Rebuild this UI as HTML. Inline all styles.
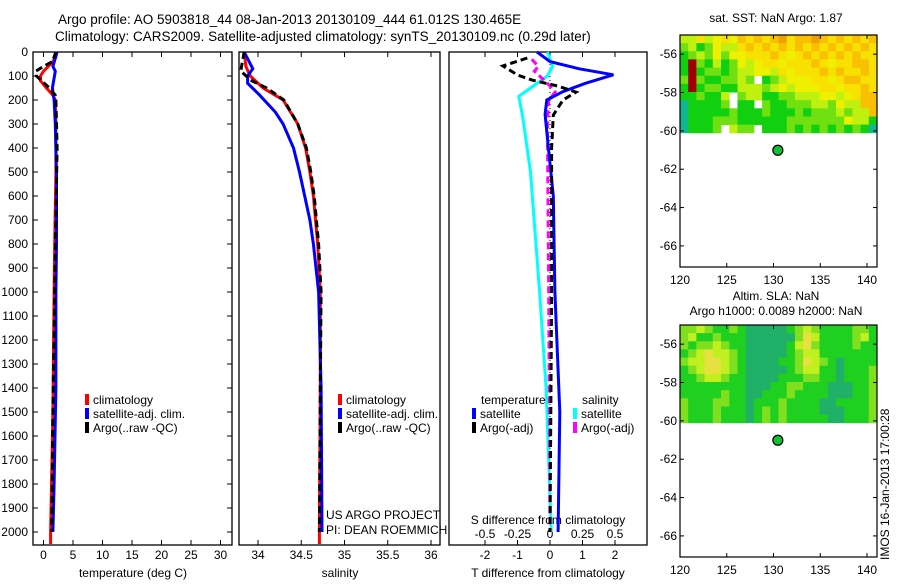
<!DOCTYPE html>
<html><head><meta charset="utf-8">
<style>
body{margin:0;background:#fff;width:900px;height:580px;overflow:hidden;font-family:"Liberation Sans",sans-serif;}
svg text{font-family:"Liberation Sans",sans-serif;font-size:12px;fill:#000;}
</style></head>
<body>
<svg id="chart" width="900" height="580" xmlns="http://www.w3.org/2000/svg">
<text x="58" y="24" style="font-size:13.5px">Argo profile: AO 5903818_44 08-Jan-2013 20130109_444 61.012S 130.465E</text>
<text x="55" y="41" style="font-size:13.5px">Climatology: CARS2009. Satellite-adjusted climatology: synTS_20130109.nc (0.29d later)</text>
<text x="776" y="22" text-anchor="middle">sat. SST: NaN Argo: 1.87</text>
<text x="776" y="300" text-anchor="middle">Altim. SLA: NaN</text>
<text x="776" y="315" text-anchor="middle">Argo h1000: 0.0089 h2000: NaN</text>
<text transform="translate(889,560) rotate(-90)">IMOS 16-Jan-2013 17:00:28</text>
<g id="g"></g>
</svg>
<script>
// ---- data ----
const depthTicks=[0,100,200,300,400,500,600,700,800,900,1000,1100,1200,1300,1400,1500,1600,1700,1800,1900,2000];
const tempTicks=[0,5,10,15,20,25,30];
const salTicks=[34,34.5,35,35.5,36];
const tdiffTicks=[-2,-1,0,1,2];
const sdiffTicks=[-0.5,-0.25,0,0.25,0.5];
const lonTicks=[120,125,130,135,140];
const latTicks=[-56,-58,-60,-62,-64,-66];

const tClimDepth=[0,20,40,60,80,100,120,150,180,200,300,500,800,1000,1500,2000,2050];
const tClimVal=[2.2,2.1,1.6,0.8,0.0,-0.5,-0.5,0.5,1.6,2.0,2.1,2.1,1.9,1.8,1.6,1.2,1.2];
const tSatDepth=[0,60,80,150,200,300,500,800,1000,1400,1800,2000];
const tSatVal=[2.3,1.6,2.0,1.5,1.8,2.0,2.2,2.2,2.1,2.1,1.8,1.6];
const tArgoDepth=[0,40,60,80,100,120,150,180,200,400,1000,1500,2000];
const tArgoVal=[2.1,1.5,0.0,-1.3,-1.2,-0.3,1.0,2.0,2.1,2.3,1.9,1.6,1.4];

const sClimDepth=[0,60,100,150,200,300,400,500,600,800,1000,1400,2000,2050];
const sClimVal=[33.84,33.86,33.91,34.06,34.29,34.46,34.55,34.6,34.64,34.69,34.72,34.72,34.71,34.71];
const sSatDepth=[0,70,100,130,180,250,300,400,500,600,700,800,900,1000,1400,2000];
const sSatVal=[33.84,33.94,33.88,33.88,34.02,34.2,34.29,34.41,34.48,34.54,34.6,34.64,34.67,34.7,34.73,34.74];
const sArgoDepth=[0,80,120,150,200,300,400,500,600,800,1000,1400,2000];
const sArgoVal=[33.84,33.8,33.93,34.1,34.3,34.46,34.56,34.61,34.65,34.7,34.73,34.72,34.71];

const dTSatDepth=[0,40,70,95,130,165,200,260,400,600,1000,1500,2000];
const dTSatVal=[-0.4,0,0.9,1.95,1.1,0.4,-0.1,-0.15,-0.05,0.1,0.15,0.3,0.25];
const dTArgoDepth=[25,58,96,117,142,167,200,263,400,1000,2000];
const dTArgoVal=[-0.7,-1.45,-1.0,-0.55,0.25,0.8,0.4,0.1,0.05,0.05,0.0];
const dSSatDepth=[0,60,100,150,185,270,500,1000,1400,2000];
const dSSatVal=[-0.02,0.02,-0.02,-0.15,-0.24,-0.21,-0.15,-0.08,-0.03,0.01];
const dSArgoDepth=[30,60,80,130,167,200,300,1000,2000];
const dSArgoVal=[-0.14,-0.09,-0.12,-0.02,0.04,-0.01,-0.02,-0.01,0.0];

const sstRows=["335345465656756676565656","231243356565656565656565","123242445556545656565655","182131243455455565455665","181221233443545556565565","282112232w12344455456655","181221133323434445545565","112113w23311223334434566","011112w11w21122233243366","011111211121112122232336","011122211111122222224331","01112w322w11121212121210"];
const slaRows=["223211210000012321111221","231121110000002431111231","212232110000013421111211","123433210000012331111111","233443210000112432101111","123443210000012331101112","112332110000111221101112","111111110001122111000112","111112110011121111000112","211122110111211110011112","211121110121211110001112","211121110121211111001112"];
const argoLon=130.465, argoLat=-61.012;

// ---- drawing ----
const NS="http://www.w3.org/2000/svg";
const G=document.getElementById('g');
function el(t,a,p){const e=document.createElementNS(NS,t);for(const k in a)e.setAttribute(k,a[k]);(p||G).appendChild(e);return e;}
const yD=d=>52+d*0.24;
const xT=v=>43.5+5.9*v;
const xS=v=>258+86.5*(v-34);
const xDT=v=>550+32.5*v;
const xDS=v=>550+130*v;
const TOP=52,BOT=545;
const panels=[[33,232,'temperature-panel'],[239,440,'salinity-panel'],[449,647,'difference-panel']];
panels.forEach(p=>{const r=el('rect',{x:p[0],y:TOP,width:p[1]-p[0],height:BOT-TOP,fill:'none',stroke:'#000','stroke-width':1.3});

});
depthTicks.forEach(d=>{const t=el('text',{x:28,y:yD(d)+4,'text-anchor':'end'});t.textContent=d;


el('line',{x1:33,x2:38,y1:yD(d),y2:yD(d),stroke:'#000'});el('line',{x1:227,x2:232,y1:yD(d),y2:yD(d),stroke:'#000'});});
function xticks(ticks,fx,y,labelY,name){ticks.forEach(v=>{const x=fx(v);el('line',{x1:x,x2:x,y1:TOP,y2:TOP+5,stroke:'#000'});el('line',{x1:x,x2:x,y1:BOT,y2:BOT-5,stroke:'#000'});
const t=el('text',{x:x,y:labelY,'text-anchor':'middle'});t.textContent=v;

});}
xticks(tempTicks,xT,0,559,'temperature-tick-label');
xticks(salTicks,xS,0,559,'salinity-tick-label');
xticks(tdiffTicks,xDT,0,559,'t-diff-tick-label');
sdiffTicks.forEach(v=>{const t=el('text',{x:xDS(v),y:538,'text-anchor':'middle'});t.textContent=v;

});
[['temperature (deg C)',133,577,'temperature-axis-title'],['salinity',340,577,'salinity-axis-title'],['T difference from climatology',548,577,'t-diff-axis-title'],['S difference from climatology',548,524,'s-diff-axis-title']].forEach(a=>{const t=el('text',{x:a[1],y:a[2],'text-anchor':'middle'});t.textContent=a[0];

});
el('line',{x1:550,x2:550,y1:TOP,y2:530,stroke:'#000','stroke-dasharray':'1,3'});
function line(ds,vs,fx,col,dash,name,w){const pts=ds.map((d,i)=>fx(vs[i]).toFixed(1)+','+yD(d).toFixed(1)).join(' ');
const a={points:pts,fill:'none',stroke:col,'stroke-width':w||3};if(dash)a['stroke-dasharray']=dash;const e=el('polyline',a);

}
line(tClimDepth,tClimVal,xT,'#f00',null,'temp-climatology-line');
line(tSatDepth,tSatVal,xT,'#00f',null,'temp-satellite-line');
line(tArgoDepth,tArgoVal,xT,'#000','7,4','temp-argo-line');
line(sClimDepth,sClimVal,xS,'#f00',null,'sal-climatology-line');
line(sSatDepth,sSatVal,xS,'#00f',null,'sal-satellite-line');
line(sArgoDepth,sArgoVal,xS,'#000','7,4','sal-argo-line');
line(dSSatDepth,dSSatVal,xDS,'#0ff',null,'s-diff-satellite-line');
line(dSArgoDepth,dSArgoVal,xDS,'#f0f','7,4','s-diff-argo-line');
line(dTSatDepth,dTSatVal,xDT,'#00f',null,'t-diff-satellite-line');
line(dTArgoDepth,dTArgoVal,xDT,'#000','7,4','t-diff-argo-line');
function leg(x,y,col,txt){el('rect',{x:x,y:y-10,width:4,height:11,fill:col});const t=el('text',{x:x+8,y:y});t.textContent=txt;

}
[[85,'temperature'],[338,'salinity']].forEach(p=>{leg(p[0],404,'#f00','climatology');leg(p[0],418,'#00f','satellite-adj. clim.');leg(p[0],432,'#000','Argo(..raw -QC)');});
let t=el('text',{x:481,y:404});t.textContent='temperature';
t=el('text',{x:582,y:404});t.textContent='salinity';
leg(472,418,'#00f','satellite');leg(472,432,'#000','Argo(-adj)');leg(573,418,'#0ff','satellite');leg(573,432,'#f0f','Argo(-adj)');
t=el('text',{x:326,y:519});t.textContent='US ARGO PROJECT';
t=el('text',{x:326,y:534});t.textContent='PI: DEAN ROEMMICH';

// maps
const sstCols={'0':'#10b890','1':'#10d010','2':'#70e010','3':'#c0f010','4':'#eef000','5':'#f8e000','6':'#f8c000','7':'#f0a000','8':'#a00000'};
const slaCols={'0':'#20b068','1':'#20d020','2':'#80e020','3':'#c0f020','4':'#e8e040'};
function map(top,bot,rows,cols,name){
 const L=680,R=877, ppLon=(867-680)/20;
 const latTop=-55.0, pp=(bot-top)/12.1;
 const fx=lon=>680+(lon-120)*ppLon, fy=lat=>top+(latTop-lat)*pp;
 const lonMax=120+(R-L)/ppLon;
 const nr=rows.length,nc=rows[0].length;const cw=(lonMax-120)/nc, rh=5.1/nr;
 rows.forEach((r,i)=>{[...r].forEach((c,j)=>{if(c==='w')return;const x0=fx(120+j*cw),y0=fy(latTop-i*rh);
 const cell=el('rect',{x:x0.toFixed(1),y:y0.toFixed(1),width:(fx(120+(j+1)*cw)-x0+0.5).toFixed(1),height:(fy(latTop-(i+1)*rh)-y0+0.5).toFixed(1),fill:cols[c]});
 
 });});
 const b=el('rect',{x:L,y:top,width:R-L,height:bot-top,fill:'none',stroke:'#000','stroke-width':1.2});
 
 
 lonTicks.forEach(v=>{const x=fx(v);el('line',{x1:x,x2:x,y1:top,y2:top+4,stroke:'#000'});el('line',{x1:x,x2:x,y1:bot,y2:bot-4,stroke:'#000'});
 const t=el('text',{x:x,y:bot+17,'text-anchor':'middle'});t.textContent=v;
 
 });
 latTicks.forEach(v=>{const y=fy(v);el('line',{x1:L,x2:L+4,y1:y,y2:y,stroke:'#000'});el('line',{x1:R,x2:R-4,y1:y,y2:y,stroke:'#000'});
 const t=el('text',{x:L-3,y:y+4,'text-anchor':'end'});t.textContent=v;
 
 });
 const d=el('circle',{cx:fx(argoLon),cy:fy(argoLat),r:5,fill:'#10c030',stroke:'#000','stroke-width':1.2});
 
 
}
map(35,267,sstRows,sstCols,'sst-map');
map(325,557,slaRows,slaCols,'sla-map');
</script>
</body></html>
